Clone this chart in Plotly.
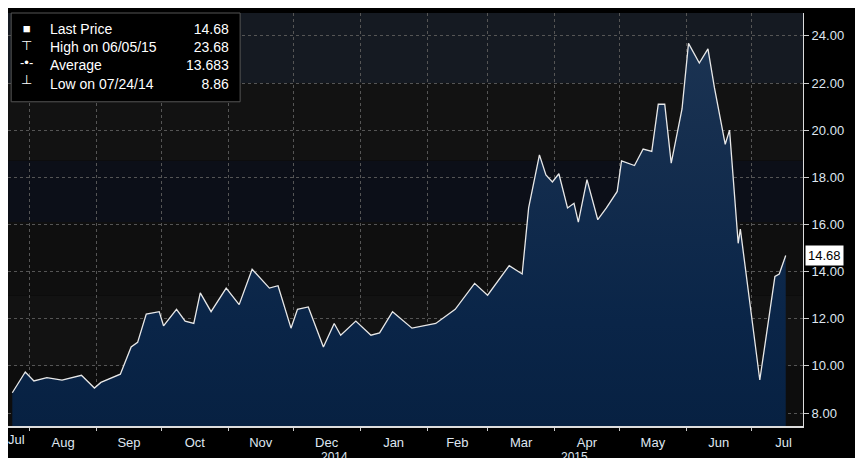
import plotly.graph_objects as go

# price readings (date, last price)
dates = ["2014-07-24", "2014-07-30", "2014-08-03", "2014-08-09", "2014-08-16", "2014-08-25",
         "2014-08-31", "2014-09-03", "2014-09-12", "2014-09-17", "2014-09-20", "2014-09-24",
         "2014-09-30", "2014-10-02", "2014-10-08", "2014-10-12", "2014-10-16", "2014-10-19",
         "2014-10-24", "2014-10-31", "2014-11-06", "2014-11-12", "2014-11-20", "2014-11-24",
         "2014-11-30", "2014-12-03", "2014-12-08", "2014-12-15", "2014-12-20", "2014-12-23",
         "2014-12-30", "2015-01-06", "2015-01-10", "2015-01-16", "2015-01-25", "2015-02-05",
         "2015-02-14", "2015-02-23", "2015-03-01", "2015-03-06", "2015-03-11", "2015-03-17",
         "2015-03-20", "2015-03-25", "2015-03-28", "2015-03-31", "2015-04-03", "2015-04-07",
         "2015-04-10", "2015-04-12", "2015-04-16", "2015-04-21", "2015-04-25", "2015-04-30",
         "2015-05-02", "2015-05-08", "2015-05-12", "2015-05-16", "2015-05-19", "2015-05-22",
         "2015-05-25", "2015-05-30", "2015-06-02", "2015-06-07", "2015-06-11", "2015-06-14",
         "2015-06-19", "2015-06-21", "2015-06-25", "2015-06-26", "2015-07-05", "2015-07-12",
         "2015-07-14", "2015-07-17"]
prices = [8.86, 9.74, 9.36, 9.5, 9.4, 9.6,
          9.06, 9.3, 9.65, 10.8, 11.0, 12.2,
          12.3, 11.7, 12.4, 11.9, 11.8, 13.1,
          12.3, 13.3, 12.6, 14.1, 13.3, 13.4,
          11.6, 12.4, 12.5, 10.8, 11.8, 11.3,
          11.9, 11.3, 11.4, 12.3, 11.6, 11.8,
          12.4, 13.5, 13.0, 13.6, 14.25, 13.9,
          16.7, 18.95, 18.1, 17.8, 18.15, 16.7,
          16.9, 16.1, 17.9, 16.2, 16.7, 17.4,
          18.7, 18.5, 19.2, 19.1, 21.1, 21.1,
          18.6, 20.9, 23.68, 22.85, 23.45, 21.8,
          19.4, 20.0, 15.2, 15.8, 9.4, 13.8,
          13.9, 14.68]

y_ticks = [8, 10, 12, 14, 16, 18, 20, 22, 24]
band_edges = [7.45, 10.0, 13.0, 16.1, 18.7, 22.0, 25.0]
band_colors = ["#0d0d0d", "#121212", "#0f0f0f", "#0c0f18", "#121212", "#151a22"]

fig = go.Figure(go.Scatter(
    x=dates, y=prices, mode="lines",
    line=dict(color="#e8e8e8", width=1.3),
    fill="tozeroy",
    fillgradient=dict(type="vertical",
                      colorscale=[[0, "#021a38"], [0.5, "#0a2548"], [1, "#1b3352"]]),
    hoverinfo="skip",
))

shapes = []
for i, c in enumerate(band_colors):
    shapes.append(dict(type="rect", xref="paper", yref="y", x0=0, x1=1,
                       y0=band_edges[i], y1=band_edges[i + 1],
                       fillcolor=c, line_width=0, layer="below"))
# legend frame
shapes.append(dict(type="rect", xref="paper", yref="paper", x0=0.004, x1=0.292,
                   y0=0.785, y1=1.0, fillcolor="#000000",
                   line=dict(color="#555555", width=1)))

legend_labels = "Last Price<br>High on 06/05/15<br>Average<br>Low on 07/24/14"
legend_values = "14.68<br>23.68<br>13.683<br>8.86"
legend_marks = "■<br>⊤<br>-•-<br>⊥"

fig.update_layout(
    width=863, height=458,
    margin=dict(l=0, r=68, t=5, b=40),
    paper_bgcolor="#000000", plot_bgcolor="#000000",
    showlegend=False,
    font=dict(family="Liberation Sans, Arial", color="#dfe6f0", size=13),
    shapes=shapes,
    xaxis=dict(
        type="date", range=["2014-07-22", "2015-07-25"],
        dtick="M1", tick0="2014-07-01", tickformat="%b", ticklabelmode="period",
        showgrid=True, gridcolor="#555555", griddash="dot", gridwidth=1,
        ticks="outside", tickcolor="#cccccc", ticklen=3,
        showline=True, linecolor="#dddddd", linewidth=2,
        tickfont=dict(size=13, color="#dfe6f0"),
    ),
    yaxis=dict(
        side="right", range=[7.45, 24.97], tickvals=y_ticks, tickformat=".2f",
        showgrid=True, gridcolor="#555555", griddash="dot", gridwidth=1,
        ticks="outside", tickcolor="#cccccc", ticklen=5,
        showline=True, linecolor="#dddddd", linewidth=1,
        tickfont=dict(size=13, color="#dfe6f0"), zeroline=False,
    ),
    annotations=[
        dict(x="2014-07-26", y=0, xref="x", yref="paper", text="Jul", yshift=-4,
             showarrow=False, yanchor="top", font=dict(size=13)),
        dict(x="2014-12-20", y=-0.098, xref="x", yref="paper", text="2014",
             showarrow=False, yanchor="bottom", font=dict(size=12)),
        dict(x="2015-04-10", y=-0.098, xref="x", yref="paper", text="2015",
             showarrow=False, yanchor="bottom", font=dict(size=12)),
        dict(x=1.003, y=14.68, xref="paper", yref="y", text="14.68", showarrow=False,
             xanchor="left", bgcolor="#ffffff", font=dict(color="#000000", size=13),
             borderpad=2),
        dict(x=0.012, y=0.985, xref="paper", yref="paper", text=legend_marks,
             showarrow=False, xanchor="left", yanchor="top", align="center",
             font=dict(size=13, color="#ffffff")),
        dict(x=0.05, y=0.985, xref="paper", yref="paper", text=legend_labels,
             showarrow=False, xanchor="left", yanchor="top", align="left",
             font=dict(size=14, color="#ffffff")),
        dict(x=0.281, y=0.985, xref="paper", yref="paper", text=legend_values,
             showarrow=False, xanchor="right", yanchor="top", align="right",
             font=dict(size=14, color="#ffffff")),
    ],
)

fig.write_html("out.html")
